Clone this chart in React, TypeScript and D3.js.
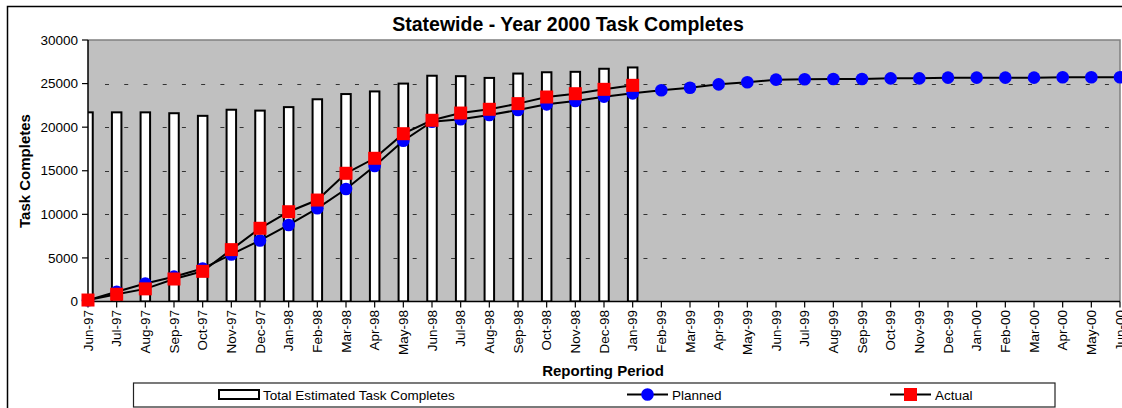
import React from "react";
import * as d3 from "d3";

const categories = [
  "Jun-97","Jul-97","Aug-97","Sep-97","Oct-97","Nov-97","Dec-97","Jan-98","Feb-98","Mar-98",
  "Apr-98","May-98","Jun-98","Jul-98","Aug-98","Sep-98","Oct-98","Nov-98","Dec-98","Jan-99",
  "Feb-99","Mar-99","Apr-99","May-99","Jun-99","Jul-99","Aug-99","Sep-99","Oct-99","Nov-99",
  "Dec-99","Jan-00","Feb-00","Mar-00","Apr-00","May-00","Jun-00",
];

const totalEstimated = [
  21700, 21700, 21700, 21600, 21300, 22000, 21900, 22300, 23200, 23800,
  24100, 25000, 25900, 25850, 25650, 26150, 26300, 26350, 26700, 26850,
];

const planned = [
  150, 1120, 2060, 2850, 3780, 5400, 7000, 8780, 10690, 12910,
  15550, 18450, 20630, 20900, 21400, 21970, 22620, 23000, 23500, 23880,
  24230, 24530, 24910, 25150, 25450, 25490, 25530, 25530, 25600, 25600,
  25680, 25680, 25680, 25680, 25720, 25720, 25720,
];

const actual = [
  170, 830, 1450, 2580, 3460, 5950, 8400, 10300, 11640, 14710,
  16430, 19250, 20790, 21620, 22050, 22700, 23460, 23840, 24340, 24800,
];

const yTicks = [0, 5000, 10000, 15000, 20000, 25000, 30000];
const gridTicks = [5000, 10000, 15000, 20000, 25000];

const FONT = "'Liberation Sans', Arial, sans-serif";

export default function App() {
  const left = 88, right = 1120, top = 40, bottom = 301.5;
  const x = d3.scalePoint<string>().domain(categories).range([left, right]);
  const y = d3.scaleLinear().domain([0, 30000]).range([bottom, top]);

  const lineGen = d3
    .line<number>()
    .x((_, i) => x(categories[i]) as number)
    .y((d) => y(d));

  const barW = 9.5;
  const sq = 13;

  return (
    <svg
      width={1122}
      height={408}
      style={{ position: "absolute", left: 0, top: 0, background: "#fff" }}
      fontFamily={FONT}
    >
      <defs>
        <clipPath id="plotClip">
          <rect x={left} y={top} width={right - left} height={bottom - top} />
        </clipPath>
      </defs>

      {/* outer chart border */}
      <rect x={7.5} y={6.5} width={1130} height={420} fill="#fff" stroke="#000" strokeWidth={1.5} />

      {/* title */}
      <text x={568} y={30.5} textAnchor="middle" fontSize={19.5} fontWeight="bold">
        Statewide - Year 2000 Task Completes
      </text>

      {/* plot background */}
      <rect x={left} y={top} width={right - left} height={bottom - top} fill="#C0C0C0" />
      <path d={`M${left},${top}H${right}V${bottom}`} fill="none" stroke="#808080" strokeWidth={1.5} />

      {/* grid lines */}
      {gridTicks.map((t) => (
        <line
          key={t}
          x1={105}
          x2={right - 2}
          y1={Math.round(y(t)) + 0.5}
          y2={Math.round(y(t)) + 0.5}
          stroke="#333"
          strokeWidth={1}
          strokeDasharray="4 15.23"
        />
      ))}

      {/* bars */}
      <g clipPath="url(#plotClip)">
        {totalEstimated.map((v, i) => {
          const cx = x(categories[i]) as number;
          return (
            <rect
              key={i}
              x={cx - barW / 2}
              y={y(v)}
              width={barW}
              height={bottom - y(v)}
              fill="#fff"
              stroke="#000"
              strokeWidth={2}
            />
          );
        })}
      </g>

      {/* axes */}
      <line x1={left} x2={left} y1={top} y2={bottom} stroke="#000" strokeWidth={1.5} />
      <line x1={left} x2={right} y1={bottom} y2={bottom} stroke="#000" strokeWidth={1.5} />
      {yTicks.map((t) => (
        <g key={t}>
          <line x1={82} x2={left} y1={y(t)} y2={y(t)} stroke="#000" strokeWidth={1.2} />
          <text x={78} y={y(t)} dy="0.35em" textAnchor="end" fontSize={13.5}>
            {t}
          </text>
        </g>
      ))}
      {categories.map((c) => {
        const cx = x(c) as number;
        return (
          <g key={c}>
            <line x1={cx} x2={cx} y1={bottom} y2={bottom + 6} stroke="#000" strokeWidth={1.2} />
            <text
              transform={`translate(${cx},310) rotate(-90)`}
              dy="0.35em"
              textAnchor="end"
              fontSize={13.5}
            >
              {c}
            </text>
          </g>
        );
      })}

      {/* planned series */}
      <path d={lineGen(planned) || ""} fill="none" stroke="#000" strokeWidth={2} />
      {planned.map((v, i) => (
        <circle key={i} cx={x(categories[i]) as number} cy={y(v)} r={6.3} fill="#0000FF" />
      ))}

      {/* actual series */}
      <path d={lineGen(actual) || ""} fill="none" stroke="#000" strokeWidth={2} />
      {actual.map((v, i) => (
        <rect
          key={i}
          x={(x(categories[i]) as number) - sq / 2}
          y={y(v) - sq / 2}
          width={sq}
          height={sq}
          fill="#FF0000"
        />
      ))}

      {/* axis titles */}
      <text
        transform="translate(29.5,171) rotate(-90)"
        textAnchor="middle"
        fontSize={15}
        fontWeight="bold"
      >
        Task Completes
      </text>
      <text x={603} y={375.5} textAnchor="middle" fontSize={15} fontWeight="bold">
        Reporting Period
      </text>

      {/* legend */}
      <rect x={133.5} y={383} width={921.5} height={24} fill="#fff" stroke="#222" strokeWidth={1.2} />
      <rect x={219} y={390} width={40} height={9} fill="#fff" stroke="#000" strokeWidth={2} />
      <text x={263} y={399.5} fontSize={13.5}>
        Total Estimated Task Completes
      </text>
      <line x1={627} x2={668} y1={394.5} y2={394.5} stroke="#000" strokeWidth={2} />
      <circle cx={647.5} cy={394.5} r={6.3} fill="#0000FF" />
      <text x={672} y={399.5} fontSize={13.5}>
        Planned
      </text>
      <line x1={890} x2={931} y1={394.5} y2={394.5} stroke="#000" strokeWidth={2} />
      <rect x={910.5 - sq / 2} y={394.5 - sq / 2} width={sq} height={sq} fill="#FF0000" />
      <text x={935} y={399.5} fontSize={13.5}>
        Actual
      </text>
    </svg>
  );
}
